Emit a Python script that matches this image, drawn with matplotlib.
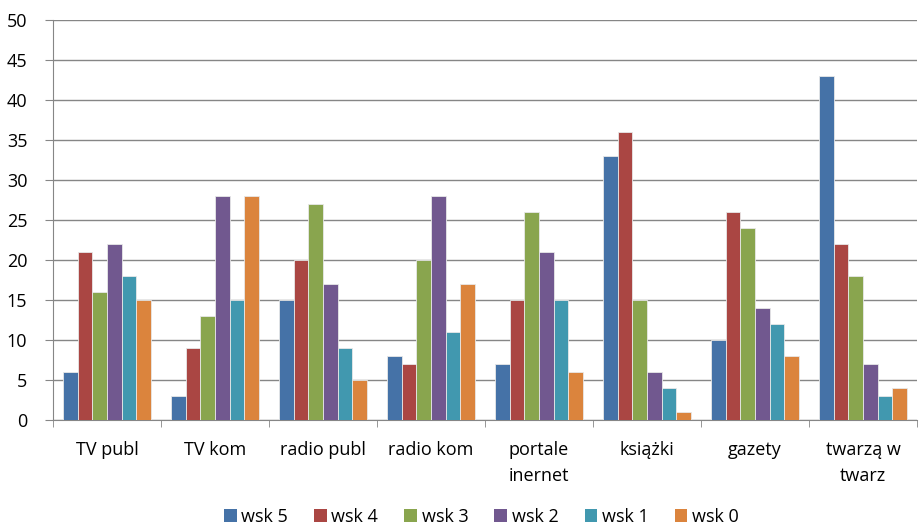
import numpy as np
import matplotlib.pyplot as plt
from matplotlib.patches import Patch

categories = ['TV publ', 'TV kom', 'radio publ', 'radio kom', 'portale\ninernet',
              'książki', 'gazety', 'twarzą w\ntwarz']
series_names = ['wsk 5', 'wsk 4', 'wsk 3', 'wsk 2', 'wsk 1', 'wsk 0']
wsk5 = [6, 3, 15, 8, 7, 33, 10, 43]
wsk4 = [21, 9, 20, 7, 15, 36, 26, 22]
wsk3 = [16, 13, 27, 20, 26, 15, 24, 18]
wsk2 = [22, 28, 17, 28, 21, 6, 14, 7]
wsk1 = [18, 15, 9, 11, 15, 4, 12, 3]
wsk0 = [15, 28, 5, 17, 6, 1, 8, 4]
series = [wsk5, wsk4, wsk3, wsk2, wsk1, wsk0]
colors = ['#4572A7', '#AA4643', '#89A54E', '#71588F', '#4198AF', '#DB843D']

plt.rcParams['font.family'] = ['Open Sans', 'DejaVu Sans']

fig = plt.figure(figsize=(9.22, 5.28), dpi=100)
ax = fig.add_axes([53/922, 108/528, 864/922, 400/528])

x = np.arange(len(categories))
w = 0.135
for i, (vals, c) in enumerate(zip(series, colors)):
    ax.bar(x + (i - 2.5) * w, vals, width=w, color=c, edgecolor='#e8e8e8',
           linewidth=0.6, zorder=3)

ax.set_xlim(-0.5, len(categories) - 0.5)
ax.set_ylim(0, 50)
ax.set_yticks(range(0, 51, 5))
ax.yaxis.grid(True, color='#868686', linewidth=1, zorder=0)
ax.set_xticks(x)
ax.set_xticklabels(categories, fontsize=13, linespacing=1.55)
ax.set_xticks(np.arange(-0.5, len(categories)), minor=True)
ax.tick_params(axis='x', which='major', length=0, pad=15)
ax.tick_params(axis='x', which='minor', length=5, color='#868686')
ax.tick_params(axis='y', length=5.5, color='#868686', labelsize=13, pad=13)
for s in ['top', 'right']:
    ax.spines[s].set_visible(False)
for s in ['left', 'bottom']:
    ax.spines[s].set_color('#868686')

handles = [Patch(facecolor=c, label=n) for c, n in zip(colors, series_names)]
fig.legend(handles=handles, loc='center', bbox_to_anchor=(0.522, 11/528), ncol=6,
           frameon=False, fontsize=13, handlelength=0.7, handleheight=0.7,
           handletextpad=0.25, columnspacing=1.45)

fig.savefig('out.png', dpi=100)
